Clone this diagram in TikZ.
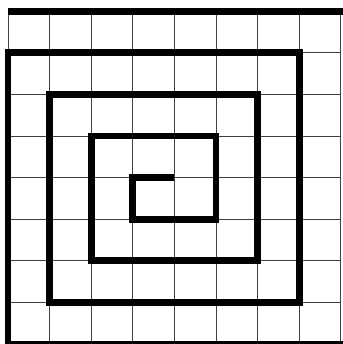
\documentclass[tikz,border=0pt]{standalone}
\usepackage{tikz}

\begin{document}
\begin{tikzpicture}[
  boardgrid/.style={draw=black!75, line width=0.6pt},
  spiral/.style={draw, line width=4.6pt, line join=miter}
]
\useasboundingbox (-0.192,0) rectangle (8.05,8.27);
\clip (-0.192,0) rectangle (8.05,8.27);
\draw[boardgrid] (0,0) grid (8,8);
% spiral from the centre outwards, then the top edge
\draw[spiral] (4,4) -- (3,4) -- (3,3) -- (5,3) -- (5,5) -- (2,5) -- (2,2) -- (6,2) -- (6,6)
  -- (1,6) -- (1,1) -- (7,1) -- (7,7) -- (0,7) -- (0,0) -- (8.1,0);
\draw[spiral] (8.1,8) -- (0,8);
\end{tikzpicture}
\end{document}
